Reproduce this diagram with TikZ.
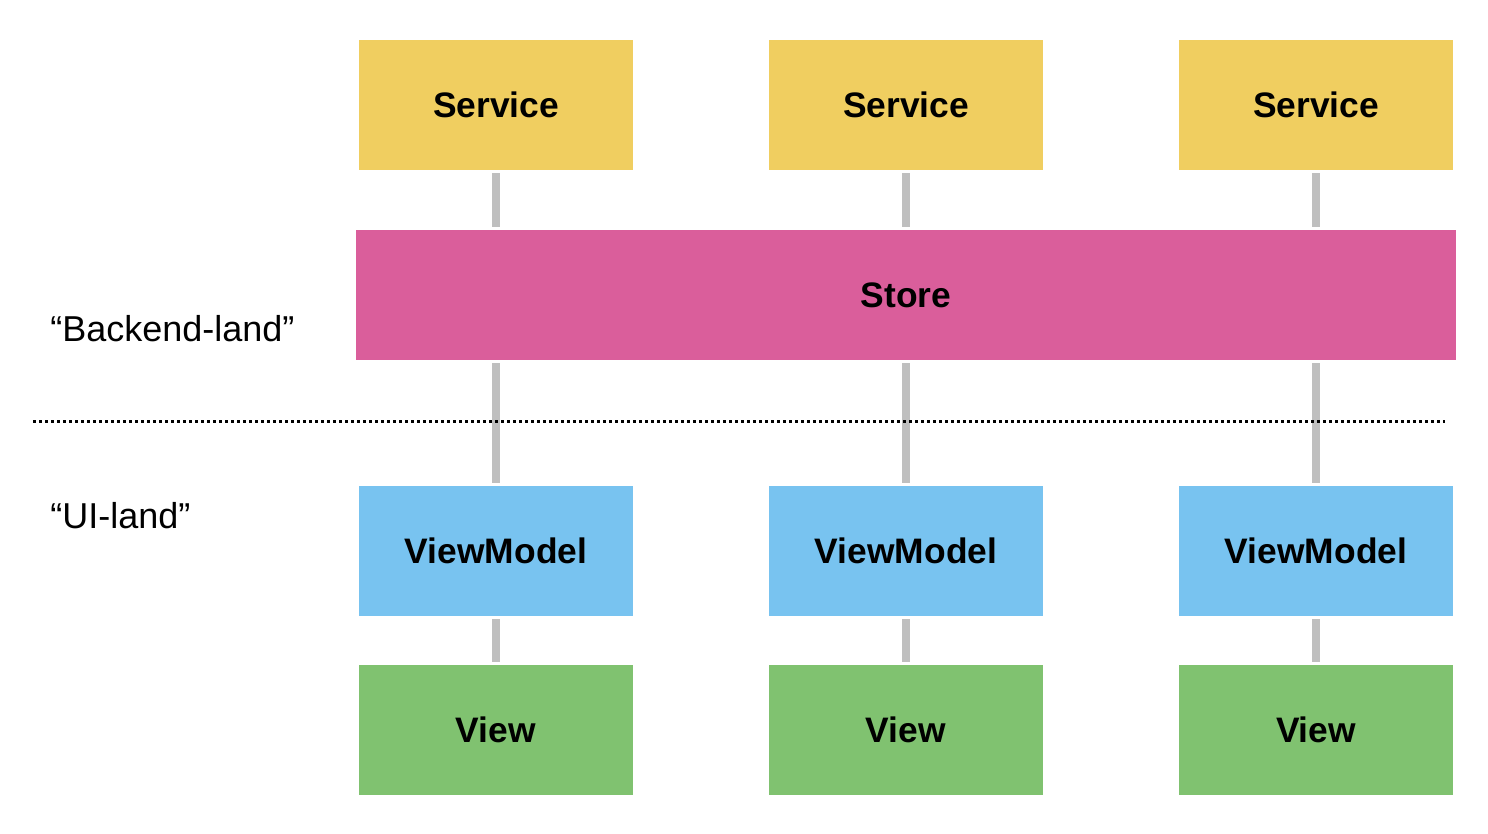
\documentclass[tikz,border=0pt]{standalone}
\usepackage{fontspec}
\setmainfont{Liberation Sans}
\usetikzlibrary{positioning,calc}
\definecolor{servicecol}{HTML}{F0CE60}
\definecolor{storecol}{HTML}{DA5E9B}
\definecolor{vmcol}{HTML}{78C3F0}
\definecolor{viewcol}{HTML}{80C270}
\definecolor{linkcol}{HTML}{BFBFBF}

\begin{document}
\begin{tikzpicture}[
  x=0.5pt, y=-0.5pt,
  every node/.style={font=\fontsize{18}{21}\selectfont},
  block/.style={inner sep=0pt, minimum width=137pt, minimum height=65pt,
                font=\fontsize{17.7}{21}\selectfont\bfseries},
  link/.style={line width=4pt, linkcol, shorten <=1.5pt, shorten >=1.5pt},
  divider/.style={line width=1.5pt, dash pattern=on 1.5pt off 1.5pt}
]
  \useasboundingbox (0,0) rectangle (1488,834);

  % --- Services (top row) ---
  \node[block, fill=servicecol] (svc1) at (496, 105)  {Service};
  \node[block, fill=servicecol] (svc2) at (906, 105)  {Service};
  \node[block, fill=servicecol] (svc3) at (1316, 105) {Service};

  % --- Store spanning all columns ---
  \node[block, fill=storecol, minimum width=550pt] (store) at (906, 295) {Store};

  % --- ViewModels and Views ---
  \node[block, fill=vmcol]   (vm1) at (496, 551)  {ViewModel};
  \node[block, fill=vmcol]   (vm2) at (906, 551)  {ViewModel};
  \node[block, fill=vmcol]   (vm3) at (1316, 551) {ViewModel};
  \node[block, fill=viewcol] (view1) at (496, 730)  {View};
  \node[block, fill=viewcol] (view2) at (906, 730)  {View};
  \node[block, fill=viewcol] (view3) at (1316, 730) {View};

  % --- Links between layers ---
  \foreach \i in {1,2,3} {
    \draw[link] (svc\i.south) -- (svc\i.south |- store.north);
    \draw[link] (vm\i.north |- store.south) -- (vm\i.north);
    \draw[link] (vm\i.south) -- (view\i.north);
  }

  % --- Backend / UI divider ---
  \coordinate (divL) at (33, 421);
  \coordinate (divR) at (1445, 421);
  \draw[divider] (divL) -- (divR);

  % --- Region labels ---
  \node[anchor=base west, inner sep=0pt] (backend) at (50, 342) {“Backend-land”};
  \node[anchor=base west, inner sep=0pt] (uiland)  at (50, 528) {“UI-land”};

\end{tikzpicture}
\end{document}
